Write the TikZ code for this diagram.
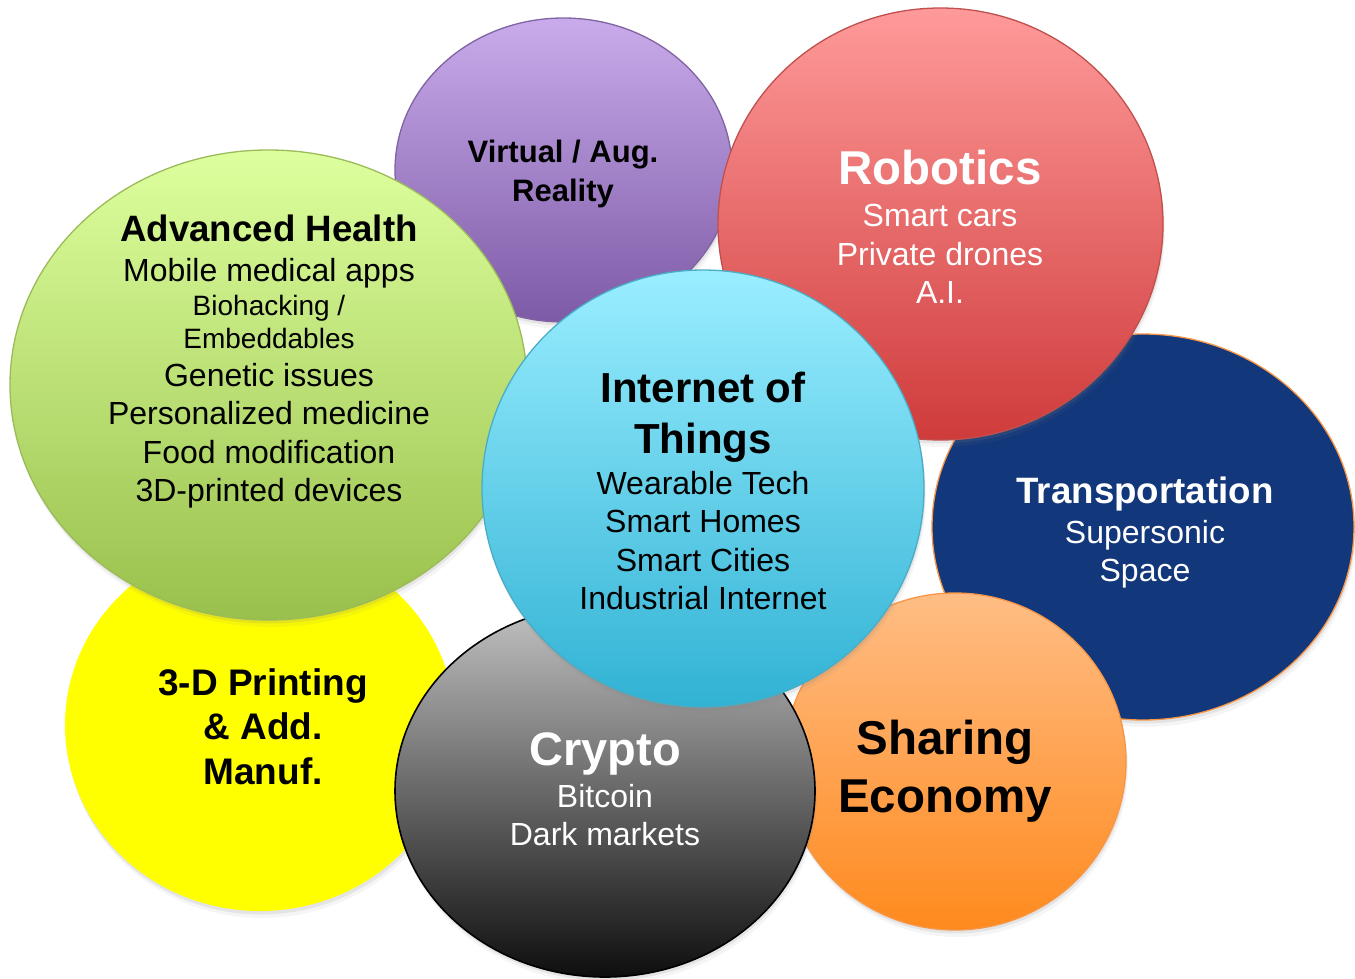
\documentclass[tikz,border=0pt]{standalone}
\usepackage{fontspec}
\setmainfont{Liberation Sans}
\usetikzlibrary{shapes.geometric,shadows}
\definecolor{purT}{HTML}{C9ABEB}\definecolor{purB}{HTML}{7D5AA6}\definecolor{purL}{HTML}{8064A2}
\definecolor{redT}{HTML}{FF9A9A}\definecolor{redB}{HTML}{CF3B3B}\definecolor{redL}{HTML}{C0504D}
\definecolor{grnT}{HTML}{DDFF9E}\definecolor{grnB}{HTML}{99C04C}\definecolor{grnL}{HTML}{9BBB59}
\definecolor{bluF}{HTML}{12377A}\definecolor{oraL}{HTML}{F79646}
\definecolor{yelF}{HTML}{FFFF00}
\definecolor{gryT}{HTML}{C2C2C2}\definecolor{gryB}{HTML}{0E0E0E}
\definecolor{oraT}{HTML}{FFBD85}\definecolor{oraB}{HTML}{FF8A1E}
\definecolor{cyaT}{HTML}{9AEEFF}\definecolor{cyaB}{HTML}{31B2D4}\definecolor{cyaL}{HTML}{4BACC6}
\tikzset{
  bub/.style={ellipse, inner sep=0pt, line width=1.3pt,
    drop shadow={opacity=0.08, shadow xshift=2pt, shadow yshift=-7pt},
    drop shadow={opacity=0.15, shadow xshift=1pt, shadow yshift=-3.5pt}},
  ttl/.style={font=\bfseries\fontsize{#1}{#1}\selectfont, anchor=base, inner sep=0pt},
  txt/.style={font=\fontsize{#1}{#1}\selectfont, anchor=base, inner sep=0pt}
}
\begin{document}
\begin{tikzpicture}[x=1pt,y=-1pt]
\useasboundingbox (0,0) rectangle (1355,979);
% bubbles (back to front)
\node[bub, minimum width=337pt, minimum height=304pt, top color=purT, bottom color=purB, draw=purL] (vr) at (563.5,170) {};
\node[bub, minimum width=422pt, minimum height=386pt, fill=bluF, draw=oraL] (tr) at (1143,527) {};
\node[bub, minimum width=445pt, minimum height=432pt, top color=redT, bottom color=redB, draw=redL] (ro) at (940.5,224) {};
\node[bub, minimum width=342pt, minimum height=337pt, top color=oraT, bottom color=oraB, draw=oraL] (se) at (955,761.5) {};
\node[bub, minimum width=390pt, minimum height=372pt, fill=yelF, draw=none] (pr) at (260,725) {};
\node[bub, minimum width=517pt, minimum height=470pt, top color=grnT, bottom color=grnB, draw=grnL] (ah) at (268.5,385) {};
\node[bub, minimum width=420pt, minimum height=372pt, top color=gryT, bottom color=gryB, draw=black, line width=1.6pt] (cr) at (605,791) {};
\node[bub, minimum width=442pt, minimum height=437pt, top color=cyaT, bottom color=cyaB, draw=cyaL] (io) at (703,488.5) {};
% texts
\node[ttl=31] (vr1) at (563,163) {Virtual / Aug.};
\node[ttl=31] (vr2) at (563,201) {Reality};

\node[ttl=47.5, white] (ro1) at (940,185) {Robotics};
\node[txt=32, white] (ro2) at (940,226.5) {Smart cars};
\node[txt=32, white] (ro3) at (940,265) {Private drones};
\node[txt=32, white] (ro4) at (940,303) {A.I.};

\node[ttl=36.7] (ah1) at (269,241) {Advanced Health};
\node[txt=32] (ah2) at (269,281) {Mobile medical apps};
\node[txt=28] (ah3) at (269,315) {Biohacking /};
\node[txt=28] (ah4) at (269,348) {Embeddables};
\node[txt=32] (ah5) at (269,386) {Genetic issues};
\node[txt=32] (ah6) at (269,424) {Personalized medicine};
\node[txt=32] (ah7) at (269,463) {Food modification};
\node[txt=32] (ah8) at (269,501) {3D-printed devices};

\node[ttl=42] (io1) at (703,402) {Internet of};
\node[ttl=42] (io2) at (703,453) {Things};
\node[txt=32] (io3) at (703,494.5) {Wearable Tech};
\node[txt=32] (io4) at (703,532.5) {Smart Homes};
\node[txt=32] (io5) at (703,571.5) {Smart Cities};
\node[txt=32] (io6) at (703,609.5) {Industrial Internet};

\node[ttl=36.7, white] (tr1) at (1145,503) {Transportation};
\node[txt=32, white] (tr2) at (1145,543.5) {Supersonic};
\node[txt=32, white] (tr3) at (1145,581.5) {Space};

\node[ttl=37] (pr1) at (263,695) {3-D Printing};
\node[ttl=37] (pr2) at (263,739) {\& Add.};
\node[ttl=37] (pr3) at (263,784) {Manuf.};

\node[ttl=47, white] (cr1) at (605,765) {Crypto};
\node[txt=32, white] (cr2) at (605,807.5) {Bitcoin};
\node[txt=32, white] (cr3) at (605,845.5) {Dark markets};

\node[ttl=47.5] (se1) at (945,754) {Sharing};
\node[ttl=47.5] (se2) at (945,812) {Economy};
\end{tikzpicture}
\end{document}
